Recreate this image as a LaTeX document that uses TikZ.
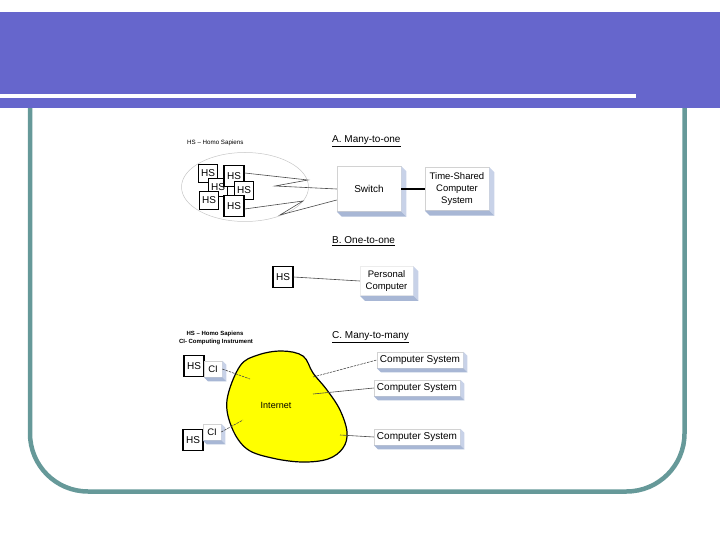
\documentclass[tikz,border=0pt]{standalone}
\usepackage{fontspec}
\setmainfont{Liberation Sans}
\usetikzlibrary{calc,shapes.geometric}
\definecolor{hdr}{HTML}{6666CC}
\definecolor{frm}{HTML}{669999}
\definecolor{sideA}{HTML}{C8D2E8}
\definecolor{sideB}{HTML}{A8B7D5}
\definecolor{blobY}{HTML}{FFFF00}
\definecolor{wirec}{HTML}{4A4A4A}
\newcommand\fs[1]{\fontsize{#1}{#1}\selectfont}
\newcommand\fsl[2]{\fontsize{#1}{#2}\selectfont}
\newcommand\extrude[2]{%
  \fill[sideA] (#1.north east) -- ++(#2,#2) -- ($(#1.south east)+(#2,#2)$) -- (#1.south east) -- cycle;
  \fill[sideB] (#1.south west) -- (#1.south east) -- ($(#1.south east)+(#2,#2)$) -- ($(#1.south west)+(#2,#2)$) -- cycle;}
\tikzset{
  hsbox/.style={draw=black, line width=0.9pt, fill=white, minimum width=19pt, minimum height=18pt, inner sep=0pt, font=\fs{10}},
  hsbold/.style={hsbox, line width=1.4pt, minimum width=20pt, minimum height=21pt},
  hsc/.style={hsbox, line width=1.1pt, minimum width=20pt, minimum height=21pt},
  face/.style={draw=gray!35, line width=0.5pt, fill=white, inner sep=0pt, align=center},
  wire/.style={draw=wirec, line width=0.6pt},
  dwire/.style={wire, dash pattern=on 2.5pt off 1pt},
  title/.style={font=\fs{10}, anchor=base west, inner sep=0pt},
  legend/.style={font=\fs{6.2}},
}
\begin{document}
\begin{tikzpicture}[x=1pt,y=-1pt]
\useasboundingbox (0,0) rectangle (720,540);
% frame
\draw[frm, line width=4.5pt, rounded corners=58pt] (30,60) -- (30,491.5) -- (684.5,491.5) -- (684.5,60);
% header
\fill[hdr] (0,12) rectangle (720,108);
\fill[white] (0,94) rectangle (636,98);

% ===== A. Many-to-one =====
\node[legend, anchor=west, inner sep=0pt] (legA) at (187,143) {HS -- Homo Sapiens};
\node[title] (titA) at (332,142.5) {\underline{A. Many-to-one}};
\node[ellipse, draw=gray!45, line width=0.5pt, minimum width=127pt, minimum height=69pt, inner sep=0pt] (grp) at (245,187) {};

\node[hsbox] (hs1) at (208,173) {HS};
\node[hsbox] (hs3) at (218,187) {HS};
\node[hsbold] (hs2) at (234,176) {HS};
\node[hsbox] (hs4) at (244,190) {HS};
\node[hsbox] (hs5) at (209,200) {HS};
\node[hsbold] (hs6) at (234,206) {HS};

\node[face, minimum width=64pt, minimum height=45pt, font=\fs{10}] (sw) at (369,189) {Switch};
\extrude{sw}{5}
\node[face, minimum width=64pt, minimum height=43pt, font=\fsl{9.5}{12}] (tss) at (457,189) {Time-Shared\\Computer\\System};
\extrude{tss}{5}
\draw[black, line width=2pt] (sw.east) -- (tss.west);

\coordinate (za1) at (308,180);
\coordinate (za2) at (275,186);
\coordinate (zb1) at (303,201);
\coordinate (zb2) at (280,215);
\coordinate (swa) at ($(sw.west)+(0,0)$);
\coordinate (swb) at ($(sw.west)+(0,11)$);
\draw[wire] ($(hs2.east)+(0,-3)$) -- (za1) -- (za2) -- (swa);
\draw[wire] ($(hs6.east)+(0,3)$) -- (zb1) -- (zb2) -- (swb);

% ===== B. One-to-one =====
\node[title] (titB) at (332,243.5) {\underline{B. One-to-one}};
\node[hsc] (hsb) at (283,277) {HS};
\node[face, draw=gray!15, minimum width=53pt, minimum height=29pt, font=\fsl{9.5}{12.5}] (pc) at (386.5,281) {Personal\\Computer};
\extrude{pc}{5}
\draw[wire] (hsb.east) -- (pc.west);

% ===== C. Many-to-many =====
\node[legend, font=\bfseries\fs{6}] (legC1) at (215,334) {HS -- Homo Sapiens};
\node[legend, font=\bfseries\fs{6}] (legC2) at (216,342) {CI- Computing Instrument};
\node[title] (titC) at (332,338.5) {\underline{C. Many-to-many}};

\draw[black, line width=1.2pt, fill=blobY] plot[smooth cycle, tension=0.6] coordinates {
  (240,366) (258,355) (282,351) (303,356) (313,373) (327,390) (340,410)
  (347,432) (343,448) (328,459) (302,462) (272,458) (247,449) (232,428) (227,400)};
\node[font=\fs{9}] (inet) at (276,405) {Internet};

\node[hsc] (hsc1) at (194,366) {HS};
\node[face, minimum width=18pt, minimum height=16pt, font=\fs{9.5}] (ci1) at (213,369) {CI};
\extrude{ci1}{4}
\node[hsc] (hsc2) at (193,440) {HS};
\node[face, minimum width=18pt, minimum height=16pt, font=\fs{9.5}] (ci2) at (212,432) {CI};
\extrude{ci2}{4}

\coordinate (b1) at (250,379);
\coordinate (b2) at (243,420);
\draw[dwire] (ci1.east) -- (b1);
\draw[dwire] (ci2.east) -- (b2);

\node[face, minimum width=86pt, minimum height=16pt, font=\fs{10}] (cs1) at (420,360) {Computer System};
\extrude{cs1}{4}
\node[face, minimum width=86pt, minimum height=16pt, font=\fs{10}] (cs2) at (417,388) {Computer System};
\extrude{cs2}{4}
\node[face, minimum width=86pt, minimum height=16pt, font=\fs{10}] (cs3) at (417,437) {Computer System};
\extrude{cs3}{4}

\coordinate (c1) at (313,377);
\coordinate (c2) at (313,394);
\coordinate (c3) at (340,435);
\draw[dwire] (c1) -- (cs1.west);
\draw[wire] (c2) -- (cs2.west);
\draw[wire] (c3) -- (cs3.west);
\end{tikzpicture}
\end{document}
